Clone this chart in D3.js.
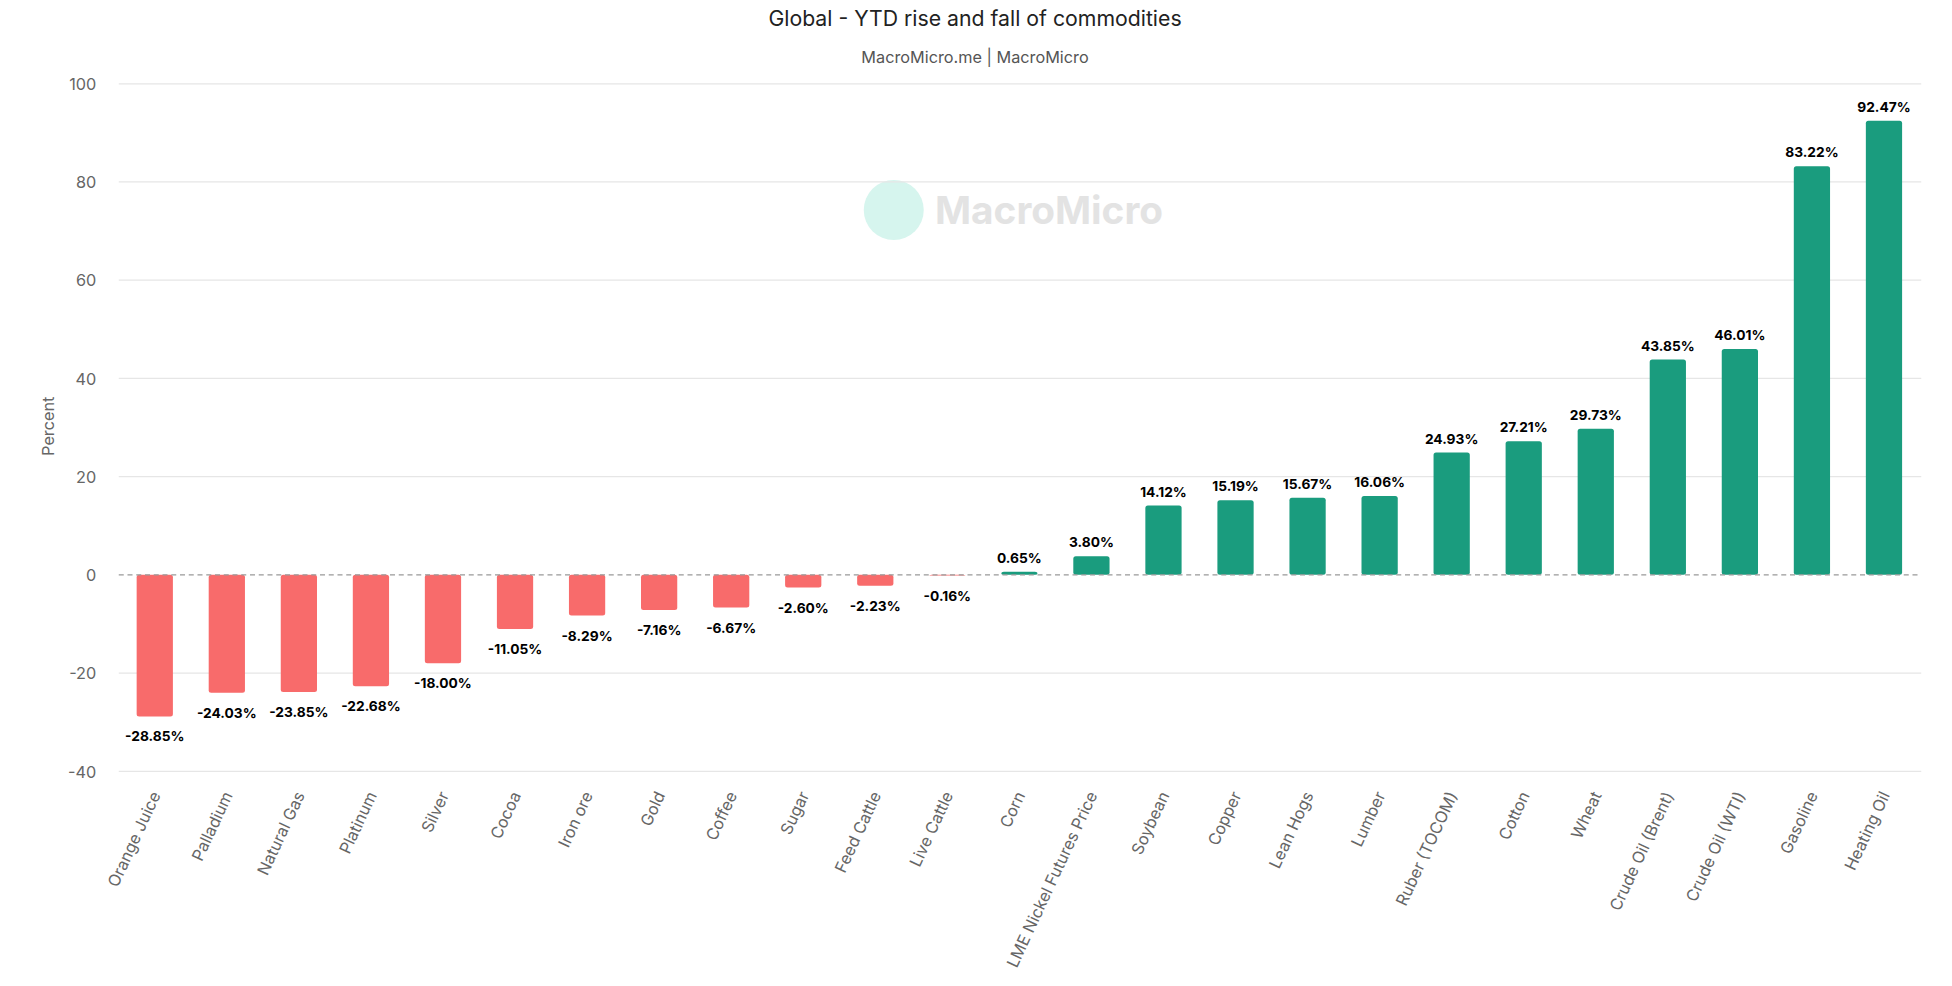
<!DOCTYPE html>
<html><head><meta charset="utf-8">
<script src="https://cdn.jsdelivr.net/npm/d3@7"></script>
<style>body{margin:0;background:#fff;font-family:Inter,"Noto Sans",sans-serif}</style>
</head><body><div id="chart"></div>
<script>
  const categories = ['Orange Juice','Palladium','Natural Gas','Platinum','Silver','Cocoa','Iron ore','Gold','Coffee','Sugar','Feed Cattle','Live Cattle','Corn','LME Nickel Futures Price','Soybean','Copper','Lean Hogs','Lumber','Ruber (TOCOM)','Cotton','Wheat','Crude Oil (Brent)','Crude Oil (WTI)','Gasoline','Heating Oil'];
  const values = [-28.85,-24.03,-23.85,-22.68,-18.00,-11.05,-8.29,-7.16,-6.67,-2.60,-2.23,-0.16,0.65,3.80,14.12,15.19,15.67,16.06,24.93,27.21,29.73,43.85,46.01,83.22,92.47];
  const yTicks = [-40,-20,0,20,40,60,80,100];

  const W = 1561.6, H = 788.8;
  const svg = d3.select('#chart').append('svg')
    .attr('width', 1952).attr('height', 986)
    .attr('viewBox', '0 0 ' + W + ' ' + H);

  const x = d3.scaleBand().domain(categories).range([95, 1536]).paddingInner(0.5).paddingOuter(0.25);
  const y = d3.scaleLinear().domain([-40, 100]).range([617, 67]);

  // Title
  svg.append('text').attr('x', 780).attr('y', 21).attr('text-anchor', 'middle')
    .attr('font-size', 17).attr('fill', '#222').text('Global - YTD rise and fall of commodities');
  svg.append('text').attr('x', 780).attr('y', 50).attr('text-anchor', 'middle')
    .attr('font-size', 13).attr('fill', '#555').text('MacroMicro.me | MacroMicro');

  // Watermark
  svg.append('circle').attr('cx', 715).attr('cy', 168).attr('r', 24).attr('fill', '#d6f5ee');
  svg.append('text').attr('x', 748).attr('y', 179).attr('font-size', 31).attr('font-weight', 700)
    .attr('fill', '#e3e3e3').text('MacroMicro');

  // Gridlines and y axis labels
  svg.append('g').selectAll('line').data(yTicks.filter(d => d !== 0)).enter().append('line')
    .attr('x1', 95).attr('x2', 1537).attr('y1', d => y(d)).attr('y2', d => y(d))
    .attr('stroke', '#e6e6e6');
  svg.append('g').selectAll('text').data(yTicks).enter().append('text')
    .attr('x', 77).attr('y', d => y(d) + 5).attr('text-anchor', 'end')
    .attr('font-size', 13).attr('fill', '#666').text(d => d);
  svg.append('text').attr('transform', 'translate(43,341) rotate(-90)').attr('text-anchor', 'middle')
    .attr('font-size', 13).attr('fill', '#666').text('Percent');

  // Bars
  const x0 = (d, i) => x(categories[i]) + x.bandwidth() / 2 - 14.5;
  svg.append('g').selectAll('rect').data(values).enter().append('rect')
    .attr('x', x0).attr('width', 29)
    .attr('y', d => y(Math.max(0, d))).attr('height', d => Math.abs(y(d) - y(0)))
    .attr('rx', 2)
    .attr('fill', d => d >= 0 ? '#1a9c7e' : '#f86b6b');

  // Zero line
  svg.append('line').attr('x1', 95).attr('x2', 1537).attr('y1', y(0)).attr('y2', y(0))
    .attr('stroke', '#999').attr('stroke-dasharray', '4,3');

  // Value labels
  svg.append('g').selectAll('text').data(values).enter().append('text')
    .attr('x', (d, i) => x(categories[i]) + x.bandwidth() / 2)
    .attr('y', d => d >= 0 ? y(d) - 7 : y(d) + 20)
    .attr('text-anchor', 'middle').attr('font-size', 11).attr('font-weight', 700).attr('fill', '#000')
    .text(d => d.toFixed(2) + '%');

  // Category labels
  svg.append('g').selectAll('text').data(categories).enter().append('text')
    .attr('transform', d => 'translate(' + (x(d) + x.bandwidth() / 2 + 5) + ',636) rotate(-65)')
    .attr('text-anchor', 'end').attr('font-size', 13).attr('fill', '#666').text(d => d);
</script></body></html>
